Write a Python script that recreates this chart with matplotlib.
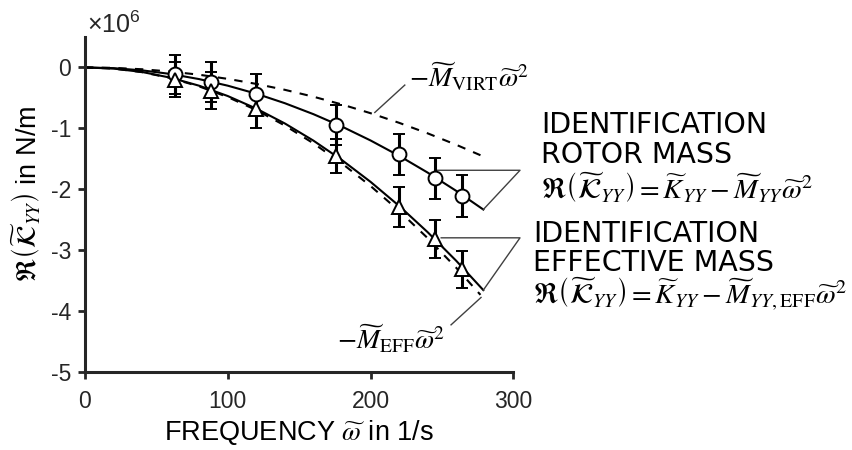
import matplotlib
matplotlib.use("Agg")
import matplotlib.pyplot as plt
import numpy as np

plt.rcParams["font.family"] = ["Liberation Sans", "DejaVu Sans"]
plt.rcParams["mathtext.fontset"] = "stix"
plt.rcParams["axes.unicode_minus"] = False

# measured points (values in 1e6 N/m)
freq = [63, 88, 120, 176, 220, 245, 264]
k_rotor = [-0.11, -0.24, -0.44, -0.94, -1.43, -1.82, -2.12]
k_rotor_err = [0.32, 0.33, 0.34, 0.33, 0.34, 0.335, 0.345]
k_eff = [-0.20, -0.38, -0.69, -1.46, -2.29, -2.82, -3.32]
k_eff_err = [0.29, 0.31, 0.30, 0.28, 0.33, 0.31, 0.30]

# fitted curves
fit_freq = [0, 20, 40, 60, 80, 100, 120, 140, 160, 180, 200, 220, 240, 260, 279]
fit_rotor = [0, -0.012, -0.048, -0.108, -0.192, -0.30, -0.432, -0.588, -0.768,
             -0.972, -1.20, -1.452, -1.728, -2.028, -2.335]
fit_eff = [0, -0.019, -0.075, -0.169, -0.301, -0.47, -0.677, -0.921, -1.203,
           -1.523, -1.88, -2.275, -2.707, -3.177, -3.659]

mass_freq = [0, 20, 40, 60, 80, 100, 120, 140, 160, 180, 200, 220, 240, 260, 277]
mass_eff = [0, -0.019, -0.078, -0.175, -0.312, -0.487, -0.701, -0.955, -1.247,
            -1.578, -1.948, -2.357, -2.805, -3.292, -3.737]
mass_virt = [0, -0.0075, -0.030, -0.068, -0.120, -0.188, -0.271, -0.368, -0.481,
             -0.609, -0.752, -0.910, -1.083, -1.271, -1.443]

W, H = 853, 450
fig = plt.figure(figsize=(W / 100, H / 100), dpi=100)
ax = fig.add_axes([85 / W, 1 - 371.7 / H, 428.3 / W, 334.7 / H])

gray = "#262626"
ax.plot(fit_freq, fit_rotor, color="black", lw=1.5)
ax.plot(fit_freq, fit_eff, color="black", lw=1.5)
ax.plot(mass_freq, mass_eff, color="black", lw=1.5, linestyle=(0, (4, 4)))
ax.plot(mass_freq, mass_virt, color="black", lw=1.5, linestyle=(0, (4, 4)))

for vals, errs, mk in [(k_rotor, k_rotor_err, "o"), (k_eff, k_eff_err, "^")]:
    ax.errorbar(freq, vals, yerr=errs, fmt=mk, color="black", mfc="white",
                mec="black", ms=10, mew=1.4, elinewidth=2.2, capsize=4,
                capthick=2.2, zorder=3)

# leader lines to the labels
apex = 304.7
ax.plot([freq[5], apex, fit_freq[-1]], [-1.69, -1.69, fit_rotor[-1]],
        color="#404040", lw=1, clip_on=False)
ax.plot([freq[5] + 4.5, apex, fit_freq[-1]], [-2.80, -2.80, fit_eff[-1]],
        color="#404040", lw=1, clip_on=False)
ax.plot([203, 224], [-0.74, -0.29], color="#404040", lw=1)
ax.plot([256.4, 277.4], [-4.23, -3.78], color="#404040", lw=1)

ax.text(227, -0.33, r"$-\widetilde{M}_{\mathrm{VIRT}}\widetilde{\omega}^2$",
        fontsize=20, va="baseline", ha="left")
ax.text(176.5, -4.64, r"$-\widetilde{M}_{\mathrm{EFF}}\widetilde{\omega}^2$",
        fontsize=20, va="baseline", ha="left")

fig.text(541 / W, 1 - 133 / H, "IDENTIFICATION", fontsize=20.5,
         family="DejaVu Sans", va="baseline", ha="left")
fig.text(541 / W, 1 - 163 / H, "ROTOR MASS", fontsize=20.5,
         family="DejaVu Sans", va="baseline", ha="left")
fig.text(541 / W, 1 - 198 / H,
         r"$\Re\left(\widetilde{\mathcal{K}}_{YY}\right)=\widetilde{K}_{YY}-\widetilde{M}_{YY}\widetilde{\omega}^2$",
         fontsize=20.5, va="baseline", ha="left")
fig.text(533 / W, 1 - 242 / H, "IDENTIFICATION", fontsize=20.5,
         family="DejaVu Sans", va="baseline", ha="left")
fig.text(533 / W, 1 - 271 / H, "EFFECTIVE MASS", fontsize=20.5,
         family="DejaVu Sans", va="baseline", ha="left")
fig.text(533 / W, 1 - 304 / H,
         r"$\Re\left(\widetilde{\mathcal{K}}_{YY}\right)=\widetilde{K}_{YY}-\widetilde{M}_{YY,\mathrm{EFF}}\widetilde{\omega}^2$",
         fontsize=20.5, va="baseline", ha="left")

fig.text(87 / W, 1 - 33 / H, r"$\mathregular{\times10^{6}}$", fontsize=18,
         color=gray, va="baseline", ha="left")

ax.set_xlim(0, 300)
ax.set_ylim(-5, 0.5)
ax.set_xticks([0, 100, 200, 300])
ax.set_yticks([0, -1, -2, -3, -4, -5])
ax.set_yticklabels(["0", "-1", "-2", "-3", "-4", "-5"])
for side in ["top", "right"]:
    ax.spines[side].set_visible(False)
for side in ["left", "bottom"]:
    ax.spines[side].set_linewidth(2.2)
    ax.spines[side].set_color(gray)
ax.tick_params(direction="out", length=5, width=2, color=gray,
               labelcolor=gray, labelsize=16.5)
ax.tick_params(axis="y", pad=5)
ax.tick_params(axis="x", pad=8)

ax.set_xlabel(r"FREQUENCY $\widetilde{\omega}$ in 1/s", fontsize=19.5)
ax.set_ylabel(r"$\Re\left(\widetilde{\mathcal{K}}_{YY}\right)$ in N/m", fontsize=19.5)
ax.yaxis.set_label_coords(-0.098, 0.53)
ax.xaxis.set_label_coords(0.5, -0.138)

fig.savefig("out.png", dpi=100)
